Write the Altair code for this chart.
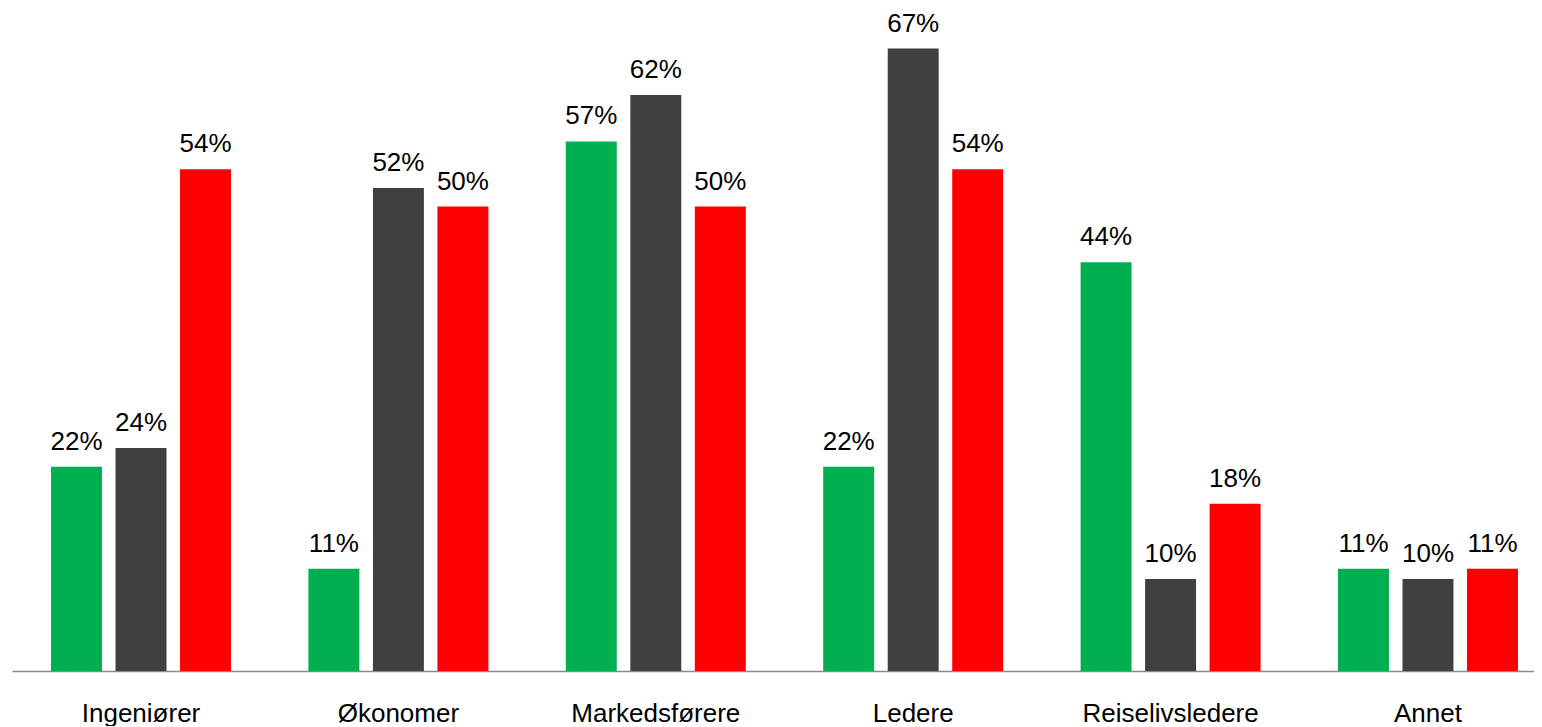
import altair as alt
import pandas as pd

categories = ["Ingeniører", "Økonomer", "Markedsførere", "Ledere", "Reiselivsledere", "Annet"]
series = ["Serie 1", "Serie 2", "Serie 3"]
green_values = [22, 11, 57, 22, 44, 11]
gray_values = [24, 52, 62, 67, 9.9, 9.9]
red_values = [54, 50, 50, 54, 18, 11]
colors = ["#00B050", "#404040", "#FF0000"]

rows = []
for s, vals in zip(series, [green_values, gray_values, red_values]):
    for c, v in zip(categories, vals):
        rows.append({"kategori": c, "serie": s, "verdi": v})
df = pd.DataFrame(rows)

FONT = "Liberation Sans"

base = alt.Chart(df).transform_calculate(
    etikett="format(datum.verdi, '.0f') + '%'"
).encode(
    x=alt.X(
        "kategori:N",
        sort=categories,
        title=None,
        scale=alt.Scale(paddingInner=0.3007, paddingOuter=0.1069, align=0.709),
        axis=alt.Axis(
            labelAngle=0,
            labelFontSize=26,
            labelFont=FONT,
            labelColor="#000000",
            labelBaseline="alphabetic",
            labelPadding=50,
            ticks=False,
            tickSize=0,
            domainColor="#8a8a8a",
            domainWidth=1.5,
            grid=False,
        ),
    ),
    xOffset=alt.XOffset("serie:N", sort=series, scale=alt.Scale(paddingInner=0.21, paddingOuter=0)),
    y=alt.Y("verdi:Q", axis=None, scale=alt.Scale(domain=[0, 71.37], nice=False, zero=True)),
)

bars = base.mark_bar().encode(
    color=alt.Color("serie:N", sort=series, scale=alt.Scale(domain=series, range=colors), legend=None)
)

labels = base.mark_text(
    baseline="alphabetic", align="center", dy=-17, fontSize=26, font=FONT, color="#000000"
).encode(text="etikett:N")

chart = (bars + labels).properties(
    width=1522,
    height=663,
    padding={"left": 4, "top": 0, "right": 0, "bottom": 0},
    background="#ffffff",
).configure_view(stroke=None)

chart.save("out.html", embed_options={"renderer": "svg", "actions": False})
